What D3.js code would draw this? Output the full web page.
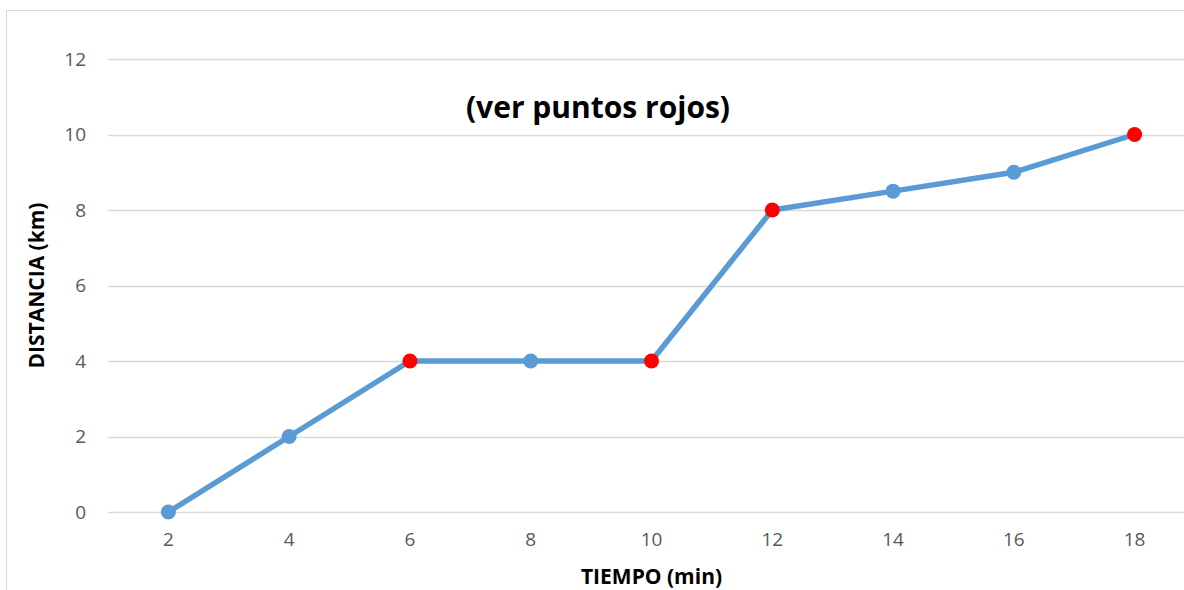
<!DOCTYPE html>
<html>
<head>
<meta charset="utf-8">
<script src="https://cdn.jsdelivr.net/npm/d3@7"></script>
<style>
  body { margin: 0; background: #fff; }
  svg { display: block; }
  svg text { font-family: "Open Sans", "Liberation Sans", sans-serif; }
</style>
</head>
<body>
<div id="svganchor"></div>
<script>
let width = 1184;
let height = 590;

// data
let tiempo = [2, 4, 6, 8, 10, 12, 14, 16, 18];
let distancia = [0, 2, 4, 4, 4, 8, 8.5, 9, 10];
let puntosRojos = [6, 10, 12, 18];
let yTicks = [0, 2, 4, 6, 8, 10, 12];

let margin = { top: 59, right: -11, bottom: 78, left: 108 };

let svg = d3.select("#svganchor").append("svg").attr("width", width).attr("height", height);

// chart frame (right and bottom edges fall outside the picture)
svg.append("rect")
  .attr("x", 6.5).attr("y", 10.5)
  .attr("width", 1200).attr("height", 600)
  .attr("fill", "none").attr("stroke", "#d9d9d9").attr("stroke-width", 1);

let xScale = d3.scaleBand().domain(tiempo).range([margin.left, width - margin.right]);
let yScale = d3.scaleLinear().domain([0, 12]).range([height - margin.bottom, margin.top]);

// gridlines
svg.append("g").attr("class", "grid")
  .selectAll("line").data(yTicks).enter().append("line")
  .attr("x1", margin.left).attr("x2", width - margin.right)
  .attr("y1", d => Math.round(yScale(d)) + 0.5).attr("y2", d => Math.round(yScale(d)) + 0.5)
  .attr("stroke", "#d9d9d9").attr("stroke-width", 1.3);

// y axis labels
let yAxis = d3.axisLeft(yScale).tickValues(yTicks).tickSize(0).tickPadding(0);
let gy = svg.append("g").attr("transform", "translate(86,0)").call(yAxis);
gy.select(".domain").remove();
gy.selectAll("text").attr("fill", "#595959").style("font-size", "19px");

// x axis labels
let xAxis = d3.axisBottom(xScale).tickSize(0).tickPadding(0);
let gx = svg.append("g").attr("transform", "translate(0," + (yScale(0) + 20) + ")").call(xAxis);
gx.select(".domain").remove();
gx.selectAll("text").attr("fill", "#595959").style("font-size", "19px");

let cx = d => xScale(d) + xScale.bandwidth() / 2;

// line
let line = d3.line()
  .x((d, i) => cx(tiempo[i]))
  .y(d => yScale(d));

svg.append("path")
  .datum(distancia)
  .attr("d", line)
  .attr("fill", "none")
  .attr("stroke", "#5b9bd5")
  .attr("stroke-width", 5.5)
  .attr("stroke-linejoin", "round");

// markers
svg.selectAll(".pt").data(tiempo).enter().append("circle")
  .attr("class", "pt")
  .attr("cx", d => cx(d))
  .attr("cy", (d, i) => yScale(distancia[i]))
  .attr("r", 7.5)
  .attr("fill", d => puntosRojos.includes(d) ? "#ff0000" : "#5b9bd5");

// annotation
svg.append("text")
  .attr("x", 598).attr("y", 118)
  .attr("text-anchor", "middle")
  .style("font-size", "30px").style("font-weight", "bold")
  .attr("fill", "#000")
  .text("(ver puntos rojos)");

// axis titles
svg.append("text")
  .attr("x", cx(10)).attr("y", 584)
  .attr("text-anchor", "middle")
  .style("font-size", "21px").style("font-weight", "bold")
  .text("TIEMPO (min)");

svg.append("text")
  .attr("transform", "translate(44," + yScale(6) + ") rotate(-90)")
  .attr("text-anchor", "middle")
  .style("font-size", "21px").style("font-weight", "bold")
  .text("DISTANCIA (km)");
</script>
</body>
</html>
